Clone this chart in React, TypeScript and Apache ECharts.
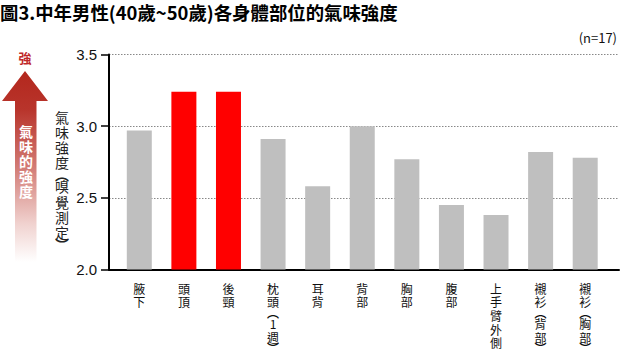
import React, { useEffect, useRef } from "react";
import * as echarts from "echarts";

const titleText = "圖3.中年男性(40歲~50歲)各身體部位的氣味強度";
const sampleNote = "(n=17)";
const yAxisName = "氣味強度(嗅覺測定)";
const arrowTop = "強";
const arrowText = "氣味的強度";

const categories = [
  "腋下",
  "頭頂",
  "後頸",
  "枕頭(1週)",
  "耳背",
  "背部",
  "胸部",
  "腹部",
  "上手臂外側",
  "襯衫(背部)",
  "襯衫(胸部)",
];
const values = [2.97, 3.24, 3.24, 2.91, 2.58, 3.0, 2.77, 2.45, 2.38, 2.82, 2.78];
const highlighted = [false, true, true, false, false, false, false, false, false, false, false];
const yTicks = [2.0, 2.5, 3.0, 3.5];

const GRAY = "#bfbfbf";
const RED = "#ff0000";
const CJK = "'Noto Sans CJK TC', 'Noto Sans CJK JP', sans-serif";

// Stack characters vertically; parentheses become compact vertical forms.
const verticalRich = (s: string) =>
  s
    .split("")
    .map((ch) => {
      if (ch === "(") return "{o|︵}";
      if (ch === ")") return "{e|︶}";
      return "{c|" + ch + "}";
    })
    .join("\n");

const richStyles = (size: number, lh: number, color: string, parenLh: number) => ({
  c: { fontFamily: CJK, fontSize: size, lineHeight: lh, color, fill: color },
  o: { fontFamily: CJK, fontSize: size, fontWeight: "bold", lineHeight: parenLh, color, fill: color },
  e: { fontFamily: CJK, fontSize: size, fontWeight: "bold", lineHeight: parenLh, color, fill: color },
});

export default function App() {
  const ref = useRef<HTMLDivElement>(null);

  useEffect(() => {
    if (!ref.current) return;
    const chart = echarts.init(ref.current, null, { renderer: "svg" });
    const yMin = yTicks[0];
    const yMax = yTicks[yTicks.length - 1];
    const step = yTicks[1] - yTicks[0];

    chart.setOption({
      animation: false,
      backgroundColor: "#ffffff",
      title: {
        text: titleText,
        left: 0,
        top: 3,
        padding: 0,
        textStyle: { fontFamily: CJK, fontSize: 18.4, fontWeight: "bold", color: "#000" },
      },
      grid: [
        { left: 117, right: 12.5, top: 54.5, bottom: 87.5 },
        { left: 109, right: 1, top: 54.5, bottom: 87.5 },
      ],
      xAxis: [
        {
          type: "category",
          gridIndex: 0,
          data: categories,
          axisLine: { show: false },
          axisTick: { show: false },
          axisLabel: {
            interval: 0,
            margin: 12,
            verticalAlign: "top",
            fontFamily: CJK,
            fontSize: 12,
            color: "#111",
            formatter: (v: string) => verticalRich(v),
            rich: richStyles(12, 13.6, "#111", 8),
          },
        },
        {
          type: "value",
          gridIndex: 1,
          min: 0,
          max: 1,
          axisLine: { show: true, onZero: false, lineStyle: { color: "#000", width: 2 } },
          axisTick: { show: false },
          axisLabel: { show: false },
          splitLine: { show: false },
        },
      ],
      yAxis: [
        { type: "value", gridIndex: 0, min: yMin, max: yMax, interval: step, show: false },
        {
          type: "value",
          gridIndex: 1,
          min: yMin,
          max: yMax,
          interval: step,
          axisLine: { show: true, lineStyle: { color: "#000", width: 2 } },
          axisTick: { show: true, length: 8, lineStyle: { color: "#000", width: 1.5 } },
          axisLabel: {
            margin: 12,
            fontFamily: "'Liberation Sans', Arial, sans-serif",
            fontSize: 15,
            color: "#111",
            formatter: (v: number) => v.toFixed(1),
          },
          splitLine: { show: true, lineStyle: { color: "#888", type: [1.5, 1.5], width: 1 } },
        },
      ],
      series: [
        {
          type: "bar",
          xAxisIndex: 0,
          yAxisIndex: 0,
          barWidth: 25,
          data: values.map((v, i) => ({
            value: v,
            itemStyle: { color: highlighted[i] ? RED : GRAY },
          })),
        },
      ],
      graphic: [
        {
          type: "polygon",
          shape: {
            points: [
              [25, 71],
              [48, 101],
              [36.5, 101],
              [36.5, 262],
              [15, 262],
              [15, 101],
              [2, 101],
            ],
          },
          style: {
            fill: new echarts.graphic.LinearGradient(0, 0, 0, 1, [
              { offset: 0, color: "#b3271d" },
              { offset: 0.2, color: "#b8342b" },
              { offset: 0.5, color: "#d27a74" },
              { offset: 0.8, color: "#f0d2cf" },
              { offset: 1, color: "#ffffff" },
            ]),
          },
        },
        {
          type: "text",
          x: 25,
          y: 57.5,
          style: {
            text: arrowTop,
            fontFamily: CJK,
            fontSize: 13,
            fontWeight: "bold",
            fill: "#c0282a",
            align: "center",
            verticalAlign: "middle",
          },
        },
        {
          type: "text",
          x: 26,
          y: 124,
          style: {
            text: arrowText.split("").join("\n"),
            fontFamily: CJK,
            fontSize: 14,
            lineHeight: 14.8,
            fontWeight: "bold",
            fill: "#ffffff",
            align: "center",
            verticalAlign: "top",
          },
        },
        {
          type: "text",
          x: 62,
          y: 109,
          style: {
            text: verticalRich(yAxisName),
            fontFamily: CJK,
            fontSize: 14,
            fill: "#222",
            align: "center",
            verticalAlign: "top",
            rich: richStyles(14, 15.2, "#222", 9),
          },
        },
        {
          type: "text",
          x: 617,
          y: 37,
          style: {
            text: sampleNote,
            fontFamily: CJK,
            fontSize: 13,
            fill: "#111",
            align: "right",
            verticalAlign: "middle",
          },
        },
      ],
    });

    return () => chart.dispose();
  }, []);

  return (
    <div
      ref={ref}
      style={{ position: "fixed", left: 0, top: 0, width: 620, height: 357 }}
    />
  );
}
